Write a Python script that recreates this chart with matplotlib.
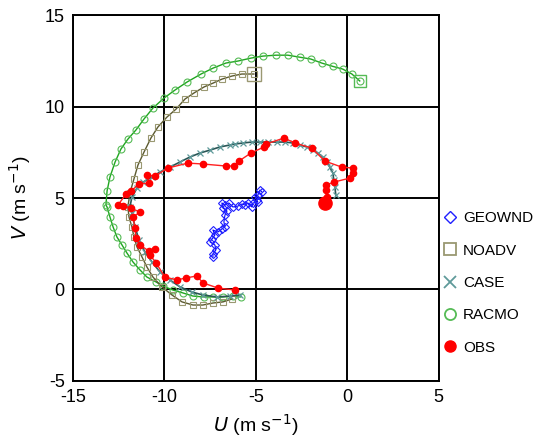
import numpy as np
import matplotlib
matplotlib.use("Agg")
import matplotlib.pyplot as plt
from matplotlib.lines import Line2D

plt.rcParams['font.family'] = ['Liberation Sans', 'DejaVu Sans']
plt.rcParams['axes.unicode_minus'] = False

# hodograph data (m/s)
geo_u = [-4.67, -4.78, -4.89, -5.05, -4.95, -4.89, -5.16, -5.22, -5.44, -5.60, -5.77, -5.98, -6.26,
         -6.48, -6.69, -6.86, -6.80, -6.58, -6.69, -6.75, -6.69, -6.86, -7.08, -7.35, -7.24, -7.40,
         -7.51, -7.24, -7.19, -7.35, -7.35]
geo_v = [5.33, 5.44, 5.16, 5.05, 4.89, 4.78, 4.73, 4.51, 4.73, 4.62, 4.67, 4.56, 4.51,
         4.73, 4.62, 4.73, 4.45, 4.29, 4.07, 3.69, 3.42, 3.31, 3.14, 3.25, 2.98, 2.76,
         2.60, 2.43, 2.16, 1.94, 1.78]

noadv_u = [-5.11, -5.77, -6.31, -6.86, -7.35, -7.84, -8.39, -8.88, -9.37, -9.86, -10.36, -10.74,
           -11.12, -11.45, -11.67, -11.89, -12.0, -11.94, -11.78, -11.67, -11.5, -11.23, -10.96,
           -10.63, -10.14, -9.59, -9.04, -8.44, -7.9, -7.35, -6.8, -6.31]
noadv_v = [11.78, 11.78, 11.67, 11.50, 11.28, 11.07, 10.74, 10.41, 9.86, 9.43, 8.88, 8.28,
           7.51, 6.80, 6.04, 5.27, 4.51, 3.96, 3.42, 2.87, 2.32, 1.78, 1.23,
           0.68, 0.14, -0.30, -0.68, -0.85, -0.85, -0.74, -0.68, -0.52]

case_u = [-0.63, -0.68, -0.74, -0.79, -0.96, -1.12, -1.34, -1.61, -1.89, -2.21, -2.60, -2.98,
          -3.42, -3.85, -4.34, -4.78, -5.22, -5.71, -6.15, -6.42, -6.97, -7.51, -8.06, -8.61,
          -9.15, -9.70, -10.25, -10.68, -11.17, -11.50, -11.78, -11.89, -11.78, -11.61, -11.39,
          -11.07, -10.68, -10.25, -9.70, -9.15, -8.5, -7.90, -7.13, -6.42, -5.87]
case_v = [5.16, 5.60, 5.98, 6.37, 6.69, 6.97, 7.24, 7.46, 7.62, 7.79, 7.90, 8.01,
          8.06, 8.06, 8.06, 8.06, 8.06, 8.01, 7.95, 7.90, 7.79, 7.62, 7.46, 7.24,
          6.97, 6.69, 6.42, 6.15, 5.87, 5.55, 5.05, 4.51, 4.18, 3.42, 2.70,
          2.05, 1.50, 0.96, 0.52, 0.14, -0.14, -0.30, -0.41, -0.36, -0.30]

racmo_u = [0.68, 0.25, -0.25, -0.8, -1.4, -2.0, -2.60, -3.25, -3.91, -4.62, -5.27, -5.98, -6.64,
           -7.35, -8.0, -8.77, -9.43, -10.03, -10.63, -11.12, -11.56, -12.0, -12.38, -12.7,
           -12.98, -13.14, -13.2, -13.14, -12.98, -12.81, -12.6, -12.32, -12.05, -11.72, -11.34,
           -10.96, -10.46, -10.08, -9.54, -8.99, -8.44, -7.84, -7.35, -6.8, -6.26, -5.82]
racmo_v = [11.40, 11.78, 12.05, 12.2, 12.38, 12.6, 12.70, 12.81, 12.81, 12.76, 12.65, 12.49, 12.38,
           12.1, 11.78, 11.34, 10.9, 10.46, 9.92, 9.32, 8.72, 8.22, 7.68, 6.97,
           6.15, 5.38, 4.62, 4.51, 3.96, 3.42, 2.87, 2.43, 1.99, 1.50, 1.07,
           0.68, 0.41, 0.19, -0.03, -0.19, -0.36, -0.41, -0.41, -0.41, -0.36, -0.41]

obs_u = [-1.23, -1.12, -1.17, -1.17, -0.74, 0.14, 0.30, 0.30, -0.30, -1.23, -1.94, -2.87, -3.47,
         -4.45, -4.56, -5.27, -5.93, -6.20, -6.64, -7.90, -8.72, -9.81, -10.52, -10.96, -10.85,
         -11.39, -11.83, -12.10, -12.54, -12.27, -11.83, -11.34, -11.72, -11.61, -11.56, -11.34,
         -10.85, -10.52, -10.79, -10.46, -9.97, -9.32, -8.83, -8.22, -7.90, -7.08, -6.15]
obs_v = [4.73, 5.05, 5.44, 5.71, 5.87, 6.09, 6.37, 6.64, 6.69, 7.02, 7.73, 8.01, 8.28,
         7.95, 7.79, 7.46, 7.02, 6.75, 6.75, 6.86, 6.91, 6.64, 6.20, 6.26, 5.82,
         5.77, 5.38, 5.22, 4.62, 4.56, 4.45, 4.23, 3.96, 3.36, 2.81, 2.43,
         2.10, 2.21, 1.89, 1.45, 0.68, 0.52, 0.63, 0.74, 0.36, 0.08, -0.03]

fig = plt.figure(figsize=(5.41, 4.45), dpi=100)
ax = fig.add_axes([0.135, 0.144, 0.676, 0.822])

# draw each run, big marker at the starting point
ax.plot(racmo_u, racmo_v, '-', color='#1fa61f', lw=1.0, zorder=2)
ax.plot(racmo_u, racmo_v, 'o', mfc='none', mec='#55bb55', ms=5, mew=0.8, zorder=2)
ax.plot(racmo_u[0], racmo_v[0], 's', mfc='none', mec='#55bb55', ms=9, mew=1.0, zorder=2)

ax.plot(noadv_u, noadv_v, '-', color='#5c5a30', lw=1.0, zorder=3)
ax.plot(noadv_u, noadv_v, 's', mfc='none', mec='#9a9872', ms=4.8, mew=0.8, zorder=3)
ax.plot(noadv_u[0], noadv_v[0], 's', mfc='none', mec='#9a9872', ms=9.5, mew=1.0, zorder=3)

ax.plot(case_u, case_v, '-', color='#2a5656', lw=1.2, zorder=4)
ax.plot(case_u, case_v, 'x', color='#5f9a9a', ms=4, mew=0.9, zorder=4)

ax.plot(obs_u, obs_v, '-', color='#ff2020', lw=1.0, zorder=5)
ax.plot(obs_u, obs_v, 'o', color='#ff0000', ms=4.5, zorder=5)
ax.plot(obs_u[0], obs_v[0], 'o', color='#ff0000', ms=9.5, zorder=5)

ax.plot(geo_u, geo_v, '-', color='#0000ff', lw=0.8, zorder=6)
ax.plot(geo_u, geo_v, 'D', mfc='none', mec='#2020ff', ms=4, mew=0.8, zorder=6)

ax.set_xlim(-15, 5)
ax.set_ylim(-5, 15)
ax.set_xticks([-15, -10, -5, 0, 5])
ax.set_yticks([-5, 0, 5, 10, 15])
ax.grid(True, color='black', lw=1.4)
ax.set_axisbelow(True)
ax.tick_params(length=0, labelsize=13, pad=6)
for sp in ax.spines.values():
    sp.set_linewidth(1.4)
ax.set_xlabel(r'$\mathit{U}$ (m s$^{-1}$)', fontsize=14, labelpad=4)
ax.set_ylabel(r'$\mathit{V}$ (m s$^{-1}$)', fontsize=14, labelpad=8)

handles = [
    Line2D([], [], ls='none', marker='D', mfc='none', mec='#2020ff', ms=6, mew=1.0),
    Line2D([], [], ls='none', marker='s', mfc='none', mec='#9a9872', ms=8, mew=1.3),
    Line2D([], [], ls='none', marker='x', color='#5f9a9a', ms=8, mew=1.3),
    Line2D([], [], ls='none', marker='o', mfc='none', mec='#55bb55', ms=8, mew=1.3),
    Line2D([], [], ls='none', marker='o', color='#ff0000', ms=8),
]
labels = ['GEOWND', 'NOADV', 'CASE', 'RACMO', 'OBS']
fig.legend(handles, labels, loc='center left', bbox_to_anchor=(0.818, 0.364),
           frameon=False, fontsize=11, handlelength=1.0, handletextpad=0.35,
           labelspacing=1.2, borderpad=0, borderaxespad=0)

fig.savefig('out.png', dpi=100)
